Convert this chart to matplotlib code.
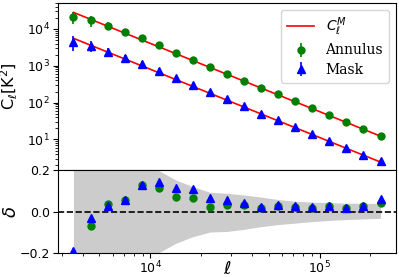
import numpy as np
import matplotlib
matplotlib.use("Agg")
import matplotlib.pyplot as plt

# multipole bin centres
ell = [3516, 4434, 5593, 7054, 8897, 11220, 14151, 17847, 22510, 28390,
       35810, 45160, 56960, 71840, 90610, 114300, 144100, 181800, 229300]

# model spectra C_ell^M
model_annulus = [28120, 18300, 11900, 7744, 5038, 3278, 2132, 1387, 902.5, 587.2,
                 382.0, 248.5, 161.7, 105.2, 68.4, 44.5, 28.96, 18.84, 12.26]
model_mask = [5572, 3625, 2358, 1534, 998, 649.3, 422.5, 274.9, 178.8, 116.3,
              75.7, 49.2, 32.0, 20.84, 13.56, 8.82, 5.74, 3.73, 2.43]

# measured spectra
cl_annulus = [21500, 17040, 12320, 8178, 5678, 3645, 2286, 1480, 922.4, 607.2,
              393.8, 253.0, 166.1, 107.7, 69.6, 45.6, 29.45, 19.35, 12.75]
err_annulus = [8200, 5400, 2800, 1700, 1060, 640, 320, 166, 84, 52,
               30.6, 17.4, 9.7, 5.3, 3.1, 1.9, 1.16, 0.75, 0.49]
cl_mask = [4513, 3509, 2422, 1617, 1126, 740.9, 469.8, 304.9, 190.2, 122.8,
           78.7, 50.4, 33.0, 21.4, 13.89, 9.06, 5.85, 3.83, 2.58]
err_mask = [1950, 1100, 590, 337, 210, 127, 63, 33, 16.6, 10.2,
            6.1, 3.4, 1.9, 1.04, 0.62, 0.38, 0.23, 0.15, 0.097]

# relative residuals delta
delta_annulus = [-0.235, -0.069, 0.035, 0.056, 0.127, 0.112, 0.072, 0.067, 0.022, 0.033,
                 0.031, 0.019, 0.027, 0.024, 0.017, 0.025, 0.017, 0.027, 0.04]
delta_mask = [-0.19, -0.032, 0.027, 0.054, 0.128, 0.141, 0.112, 0.109, 0.064, 0.056,
              0.04, 0.024, 0.032, 0.027, 0.024, 0.028, 0.019, 0.028, 0.062]

# uncertainty band
band_hi = [0.36, 0.30, 0.25, 0.22, 0.21, 0.197, 0.152, 0.12, 0.093, 0.088,
           0.08, 0.07, 0.058, 0.05, 0.046, 0.043, 0.041, 0.04, 0.04]
band_lo = [-0.36, -0.30, -0.25, -0.22, -0.21, -0.197, -0.152, -0.12, -0.098, -0.095,
           -0.085, -0.072, -0.062, -0.055, -0.048, -0.042, -0.038, -0.035, -0.032]

fig = plt.figure(figsize=(3.99, 2.77), dpi=100)
ax1 = fig.add_axes([0.146, 0.3863, 0.8457, 0.6037])
ax2 = fig.add_axes([0.146, 0.0856, 0.8457, 0.3007], sharex=ax1)

ax1.plot(ell, model_annulus, color='r', lw=1.2, label=r'$C_\ell^M$', zorder=3)
ax1.plot(ell, model_mask, color='r', lw=1.2, zorder=3)
ax1.errorbar(ell, cl_annulus, yerr=err_annulus, fmt='o', color='g', ms=5,
             elinewidth=1.2, label='Annulus', zorder=4)
ax1.errorbar(ell, cl_mask, yerr=err_mask, fmt='^', color='b', ms=5.5,
             elinewidth=1.2, label='Mask', zorder=4)
ax1.set_xscale('log')
ax1.set_yscale('log')
ax1.set_ylim(1.48, 51400)
ax1.set_ylabel(r'C$_\ell$[K$^2$]', fontsize=11.5)
ax1.yaxis.set_label_coords(-0.113, 0.5)
ax1.tick_params(labelbottom=False, labelsize=9)
ax1.tick_params(axis='y', which='major', pad=2.5)
leg = ax1.legend(loc='upper right', prop={'family': 'DejaVu Serif', 'size': 10},
                 handlelength=2.0, labelspacing=0.4)

ax2.fill_between(ell, band_lo, band_hi, color='0.8', lw=0)
ax2.axhline(0, color='k', ls='--', lw=1.2)
ax2.plot(ell, delta_annulus, 'o', color='g', ms=5, zorder=4)
ax2.plot(ell, delta_mask, '^', color='b', ms=5.5, zorder=4)
ax2.set_ylim(-0.2, 0.2)
ax2.set_yticks([-0.2, 0.0, 0.2])
ax2.set_ylabel(r'$\delta$', fontsize=13)
ax2.yaxis.set_label_coords(-0.113, 0.5)
ax2.set_xlabel(r'$\ell$', fontsize=13)
ax2.xaxis.set_label_coords(0.5, -0.08)
ax2.tick_params(labelsize=9)
ax2.tick_params(axis='y', which='major', pad=2.5)
ax2.tick_params(axis='x', which='major', pad=1.0)
ax1.set_xlim(10**3.456, 10**5.45)

fig.savefig('out.png', dpi=100)
